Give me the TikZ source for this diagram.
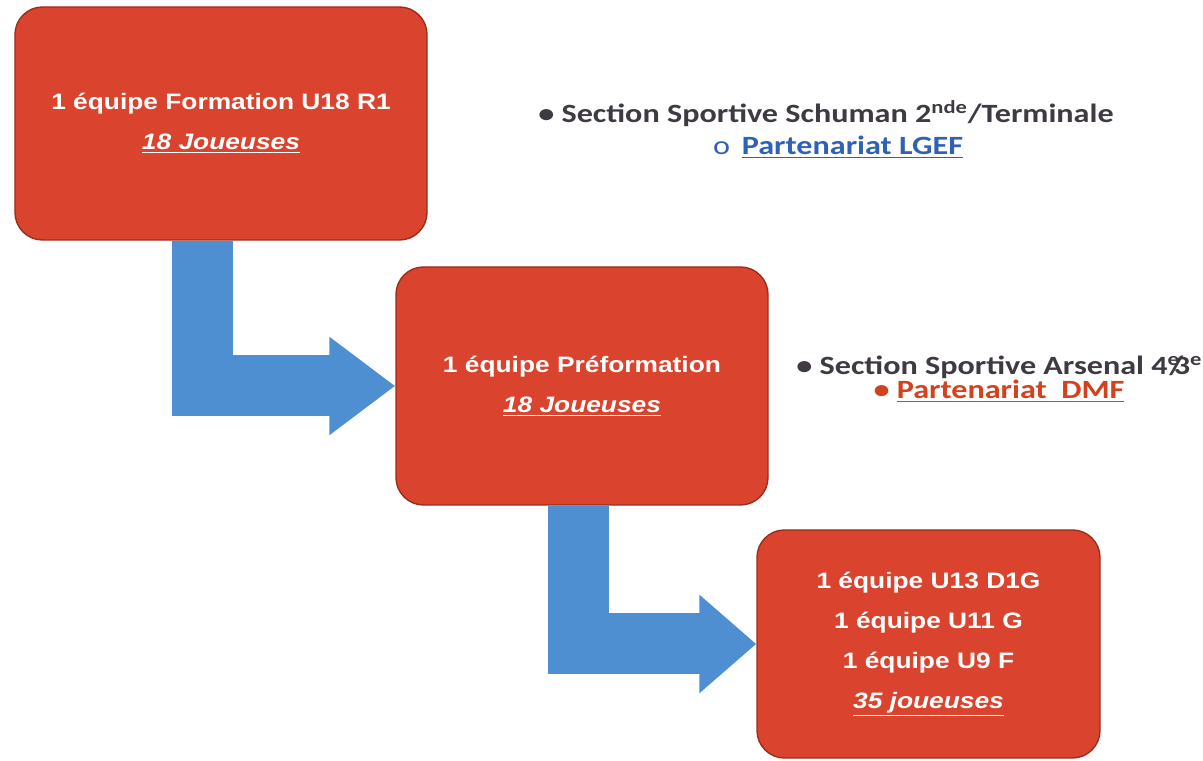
\documentclass[tikz,border=0pt]{standalone}
\usepackage{fontspec}
\usetikzlibrary{arrows.meta, positioning, backgrounds}
\newfontfamily\boxfont[FakeStretch=1.18]{Liberation Sans}
\newfontfamily\notefont[FakeStretch=1.22]{Carlito}
\definecolor{boxred}{HTML}{DA432D}
\definecolor{boxedge}{HTML}{9A2E1C}
\definecolor{flowblue}{HTML}{4D8FD0}
\definecolor{notegray}{HTML}{3F3A42}
\definecolor{linkblue}{HTML}{2F62B5}
\definecolor{linkred}{HTML}{D3421F}

\begin{document}
\begin{tikzpicture}[
  team/.style={draw=boxedge, fill=boxred, line width=0.8pt,
    rounded corners=0.55cm, align=center, text=white, inner sep=0pt,
    font=\boxfont\bfseries\fontsize{12.7}{22.8}\selectfont},
  note/.style={anchor=base, inner sep=0pt, text=notegray,
    font=\notefont\bfseries\fontsize{15}{18}\selectfont},
  flow/.style={draw=flowblue, line width=1.22cm, line join=miter,
    -{Triangle[length=1.32cm, width=1.88cm]}},
]
\useasboundingbox (0,0) rectangle (24.06,15.22);
% teams
\node[team, minimum width=8.24cm, minimum height=4.66cm] (u18) at (4.42, 12.75)
  {1 équipe Formation U18 R1\\ \underline{\textit{18 Joueuses}}};
\node[team, minimum width=7.44cm, minimum height=4.76cm] (pre) at (11.64, 7.50)
  {1 équipe Préformation\\ \underline{\textit{18 Joueuses}}};
\node[team, minimum width=6.86cm, minimum height=4.56cm] (ecole) at (18.57, 2.34)
  {1 équipe U13 D1G\\ 1 équipe U11 G\\ 1 équipe U9 F\\ \underline{\textit{35 joueuses}}};
% bent arrows
\begin{scope}[on background layer]
\fill[white] (0,0) rectangle (24.06,15.22);
\draw[flow] ([xshift=-0.37cm]u18.south) |- (pre.west);
\draw[flow, -{Triangle[length=1.14cm, width=1.9cm]}] ([xshift=-0.08cm]pre.south) |- (ecole.west);
\end{scope}
% sections
\node[note] (schuman) at (16.52, 12.76)
  {• Section Sportive Schuman 2\textsuperscript{nde}/Terminale};
\node[note, text=linkblue] (lgef) at (16.76, 12.12)
  {{\mdseries o}\hspace{0.45em}\underline{Partenariat LGEF}};
\node[note, anchor=base west] (arsenal) at (15.92, 7.72)
  {• Section Sportive Arsenal
   4\textsuperscript{e}\kern-0.4em/\kern-0.35em3\textsuperscript{e}};
\node[note, text=linkred] (dmf) at (19.98, 7.24)
  {• \underline{Partenariat\ \ DMF}};
\end{tikzpicture}
\end{document}
